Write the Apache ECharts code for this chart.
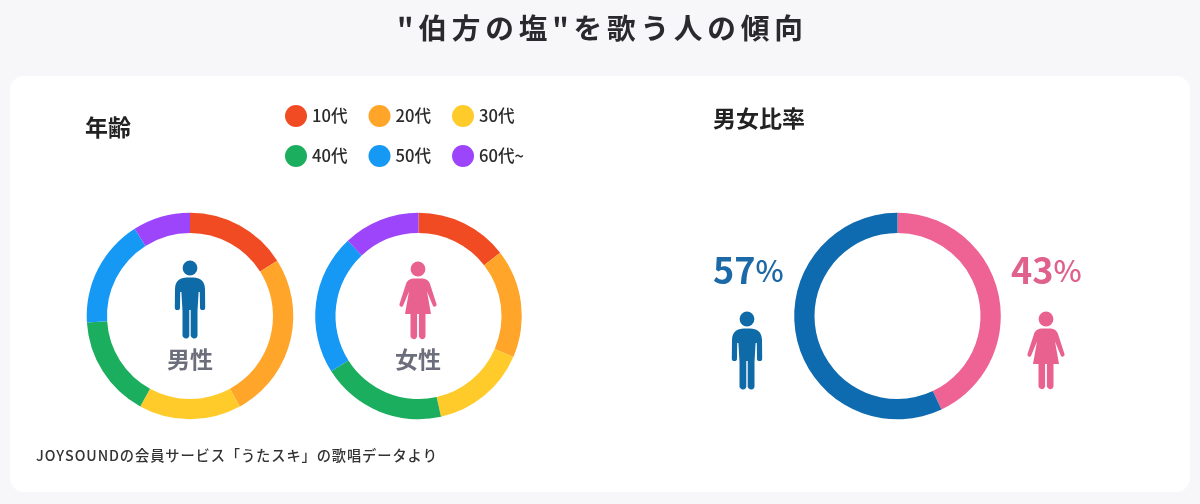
<!DOCTYPE html>
<html lang="ja">
<head>
<meta charset="utf-8">
<title>"伯方の塩"を歌う人の傾向</title>
<script src="https://cdn.jsdelivr.net/npm/echarts@6/dist/echarts.min.js"></script>
<style>
  html, body { margin: 0; padding: 0; background: #f7f6f8; }
  #chart { width: 1200px; height: 504px; }
</style>
</head>
<body>
<div id="chart"></div>
<script>
// Age bands and each band's share (%) per gender
const ageBands = ['10代', '20代', '30代', '40代', '50代', '60代~'];
const ageColors = ['#F04B23', '#FFA52A', '#FFCB2B', '#1BAE5F', '#1699F5', '#9C45FA'];
const maleAges = [16, 26, 16, 16, 17, 9];
const femaleAges = [14.5, 17, 15, 19.5, 22, 12];

// Gender split (%), pink slice first going clockwise from the top
const genderNames = ['女性', '男性'];
const genderShares = [43, 57];
const genderColors = ['#EE6294', '#0F6BB0'];

const titleText = '"伯方の塩"を歌う人の傾向';
const noteText = 'JOYSOUNDの会員サービス「うたスキ」の歌唱データより';

const FONT = '"Noto Sans CJK JP", "Noto Sans", sans-serif';
const BLUE = '#0F6BA8';
const PINK = '#E9628F';

// Canvas text has no letter-spacing, so tracking is done with narrow spaces
const tracked = (s, sep) => Array.from(s).join(sep);

// Body outlines, in local units with the head centre at the origin
const MALE_PATH = 'M-3 9.5H3C10 9.5 14.8 13 15 21L15.2 39.5A2.6 2.6 0 0 1 10 39.5L9.8 24H8.6L7.5 43V68A3.6 3.6 0 0 1 0.7 68V42H-0.7V68A3.6 3.6 0 0 1-7.5 68V43L-8.6 24H-9.8L-10 39.5A2.6 2.6 0 0 1-15.2 39.5L-15 21C-14.8 13-10 9.5-3 9.5Z';
const FEMALE_PATH = 'M-3 9.5H3C8 9.5 10.5 11 12 15L18.5 35A2 2 0 0 1 14.8 36.5L9 22.5L13 45H7.5V67.5A3.4 3.4 0 0 1 0.9 67.5V45H-0.9V67.5A3.4 3.4 0 0 1-7.5 67.5V45H-13L-9 22.5L-14.8 36.5A2 2 0 0 1-18.5 35L-12 15C-10.5 11-8 9.5-3 9.5Z';
echarts.graphic.registerShape('manBody', echarts.graphic.extendPath(MALE_PATH, {}));
echarts.graphic.registerShape('womanBody', echarts.graphic.extendPath(FEMALE_PATH, {}));

function person(x, y, bodyType, color) {
  return {
    type: 'group', x, y, silent: true,
    children: [
      { type: 'circle', shape: { cx: 0, cy: 0, r: 7.4 }, style: { fill: color } },
      { type: bodyType, style: { fill: color } }
    ]
  };
}
const man = (x, y) => person(x, y, 'manBody', BLUE);
const woman = (x, y) => person(x, y, 'womanBody', PINK);

function label(x, y, text, size, color, align, weight) {
  return { type: 'text', x, y, silent: true,
    style: { text, font: `${weight || 700} ${size}px ${FONT}`, fill: color,
             textAlign: align || 'left', textVerticalAlign: 'middle' } };
}

function percent(x, y, value, color) {
  return { type: 'text', x, y, silent: true,
    style: { text: `{n|${value}}{p|%}`, textAlign: 'left', textVerticalAlign: 'bottom',
      rich: {
        n: { fontFamily: FONT, fontSize: 36, fontWeight: 700, fill: color },
        p: { fontFamily: FONT, fontSize: 30, fontWeight: 500, fill: color }
      } } };
}

function ring(name, cx, values, names, colors) {
  return {
    type: 'pie', name, silent: true, center: [cx, 316], radius: [83, 103.3],
    startAngle: 90, clockwise: true, label: { show: false }, labelLine: { show: false },
    emphasis: { disabled: true },
    data: values.map((value, i) => ({ value, name: names[i], itemStyle: { color: colors[i] } }))
  };
}

function legendRow(names, top) {
  return {
    left: 280, top, orient: 'horizontal', icon: 'circle', selectedMode: false,
    itemWidth: 22, itemHeight: 22, itemGap: 21,
    data: names,
    textStyle: { fontFamily: FONT, fontSize: 16.6, fontWeight: 500, color: '#2b2b2b',
                 padding: [0, 0, 0, 0] }
  };
}

const chart = echarts.init(document.getElementById('chart'), null, { renderer: 'canvas' });
chart.setOption({
  backgroundColor: '#f7f6f8',
  animation: false,
  title: {
    text: tracked(titleText, '\u2006'), left: 'center', top: 9,
    textStyle: { fontFamily: FONT, fontSize: 28.7, fontWeight: 700, color: '#2a2a2e' }
  },
  legend: [legendRow(ageBands.slice(0, 3), 100), legendRow(ageBands.slice(3), 140)],
  series: [
    ring('男性', 190, maleAges, ageBands, ageColors),
    ring('女性', 418.5, femaleAges, ageBands, ageColors),
    ring('男女比率', 897.5, genderShares, genderNames, genderColors)
  ],
  graphic: [
    { type: 'rect', z: -10, silent: true, shape: { x: 10, y: 76, width: 1180, height: 416, r: 14 },
      style: { fill: '#ffffff' } },
    label(85, 127, '年齢', 23, '#222222'),
    label(713, 118, '男女比率', 23, '#222222'),
    man(190, 268),
    woman(418, 269),
    label(190, 359.5, '男性', 23, '#6C6F7B', 'center'),
    label(418, 359.5, '女性', 23, '#6C6F7B', 'center'),
    percent(713, 288.5, 57, '#1C69A8'),
    percent(1011, 288.5, 43, '#E0618D'),
    man(747, 319),
    woman(1046, 319),
    label(36, 456, tracked(noteText, '\u200A'), 14.25, '#333333', 'left', 500)
  ]
});
</script>
</body>
</html>
